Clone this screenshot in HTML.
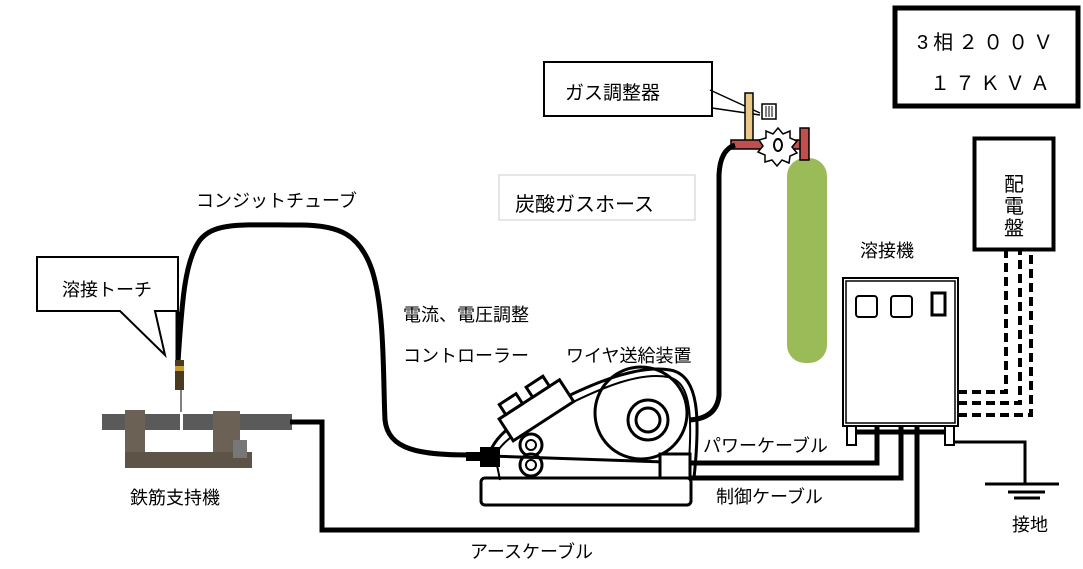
<!DOCTYPE html>
<html><head><meta charset="utf-8"><style>
body{margin:0;background:#fff;}
svg{display:block}
text{font-family:"Liberation Sans","Noto Sans CJK JP",sans-serif;fill:#000;}
</style></head><body>
<svg width="1083" height="569" viewBox="0 0 1083 569" xmlns="http://www.w3.org/2000/svg">
<rect x="895" y="8" width="183" height="98" fill="#fff" stroke="#000" stroke-width="5"/>
<text x="917" y="49" font-size="20" letter-spacing="5">3相２００Ｖ</text>
<text x="930" y="90" font-size="20" letter-spacing="5">１７ＫＶＡ</text>
<rect x="974.5" y="138.5" width="79" height="111" fill="#fff" stroke="#000" stroke-width="4"/>
<text x="1004" y="191" font-size="20">配</text>
<text x="1004" y="213" font-size="20">電</text>
<text x="1004" y="235" font-size="20">盤</text>
<g fill="none" stroke="#000" stroke-width="4" stroke-dasharray="9,5">
<path d="M958 392 H1006 V250"/>
<path d="M958 403 H1020 V250"/>
<path d="M958 415 H1031 V250"/>
</g>
<rect x="544" y="62" width="168" height="54" fill="#fff" stroke="#000" stroke-width="2"/>
<text x="565" y="99" font-size="19">ガス調整器</text>
<path d="M710 90 L760 113 M712 108 L760 115" stroke="#000" stroke-width="1.5"/>
<rect x="745" y="93" width="8" height="50" fill="#e8c98a" stroke="#000" stroke-width="1.5"/>
<rect x="762" y="104" width="14" height="15" fill="#fff" stroke="#000" stroke-width="1.5"/>
<path d="M766 106v11M769 106v11M772 106v11" stroke="#000"/>
<rect x="787" y="158" width="40" height="205" rx="18" fill="#9bbb59"/>
<rect x="731" y="140" width="77" height="9" fill="#c0504d" stroke="#000" stroke-width="1.5"/>
<rect x="800" y="128" width="9" height="32" fill="#c0504d" stroke="#000" stroke-width="1.5"/>
<polygon points="778,128 783,134 790,131 790,138 797,141 792,147 797,153 790,156 789,163 782,160 777,166 772,160 765,162 765,155 758,152 763,146 759,140 766,138 766,131 773,134" fill="#fff" stroke="#000" stroke-width="1.5"/>
<ellipse cx="778" cy="145" rx="4" ry="6" fill="#fff" stroke="#000" stroke-width="2"/>
<path d="M735 145 Q720 150 719 175 L719 395 Q717 418 690 420" fill="none" stroke="#000" stroke-width="5"/>
<rect x="499" y="175" width="196" height="45" fill="#fff" stroke="#ccc" stroke-width="1"/>
<text x="515" y="211" font-size="20">炭酸ガスホース</text>
<text x="196" y="207" font-size="18">コンジットチューブ</text>
<text x="403" y="321" font-size="18">電流、電圧調整</text>
<text x="403" y="362" font-size="18">コントローラー</text>
<text x="566" y="362" font-size="18">ワイヤ送給装置</text>
<text x="860" y="257" font-size="18">溶接機</text>
<text x="703" y="452" font-size="18">パワーケーブル</text>
<text x="716" y="503" font-size="18">制御ケーブル</text>
<text x="470" y="558" font-size="18">アースケーブル</text>
<text x="130" y="504" font-size="18">鉄筋支持機</text>
<text x="1012" y="531" font-size="18">接地</text>
<path d="M178 362 C182 300 185 260 200 240 C215 222 240 225 300 225 C340 225 360 235 372 270 C385 310 383 380 385 420 C388 450 420 455 470 455" fill="none" stroke="#000" stroke-width="5"/>
<path d="M37 257 H178 V311 H155 L165 355 L120 311 H37 Z" fill="#fff" stroke="#000" stroke-width="2"/>
<text x="62" y="296" font-size="18">溶接トーチ</text>
<path d="M178 312 L178 360" stroke="#000" stroke-width="5"/>
<rect x="175" y="360" width="9" height="30" fill="#4a3a20"/>
<rect x="175" y="366" width="9" height="5" fill="#c99a2e"/>
<line x1="181" y1="390" x2="181" y2="413" stroke="#555" stroke-width="1.5"/>
<rect x="102" y="414" width="190" height="16" fill="#5a5a5a"/>
<rect x="125" y="410" width="20" height="50" fill="#6b6155"/>
<rect x="213" y="411" width="27" height="55" fill="#6b6155"/>
<rect x="125" y="452" width="127" height="16" fill="#5d5347"/>
<rect x="233" y="440" width="14" height="18" fill="#777"/>
<rect x="180" y="412" width="3" height="20" fill="#fff"/>
<path d="M290 422 H322 V530 H917 V408" fill="none" stroke="#000" stroke-width="5"/>
<rect x="481" y="478" width="210" height="27" rx="4" fill="#fff" stroke="#000" stroke-width="3"/>
<circle cx="641" cy="413" r="46" fill="#fff" stroke="#000" stroke-width="3"/>
<circle cx="648" cy="420" r="20" fill="#fff" stroke="#000" stroke-width="3"/>
<circle cx="648" cy="420" r="12" fill="#fff" stroke="#000" stroke-width="3"/>
<path d="M487 460 C495 430 520 420 560 400 C600 380 640 365 670 370 C700 375 700 420 694 478" fill="none" stroke="#000" stroke-width="3"/>
<path d="M492 462 C500 438 525 428 565 406 C605 386 640 372 668 377 C693 382 692 420 688 478" fill="none" stroke="#000" stroke-width="2"/>
<g transform="rotate(-33 535 410)">
<rect x="500" y="398" width="72" height="26" fill="#fff" stroke="#000" stroke-width="3"/>
<rect x="508" y="386" width="20" height="12" fill="#fff" stroke="#000" stroke-width="3"/>
<rect x="540" y="386" width="20" height="12" fill="#fff" stroke="#000" stroke-width="3"/>
</g>
<circle cx="531" cy="445" r="11" fill="#fff" stroke="#000" stroke-width="3"/>
<circle cx="531" cy="445" r="5" fill="#fff" stroke="#000" stroke-width="2"/>
<circle cx="531" cy="465" r="11" fill="#fff" stroke="#000" stroke-width="3"/>
<circle cx="531" cy="465" r="5" fill="#fff" stroke="#000" stroke-width="2"/>
<line x1="490" y1="456" x2="665" y2="462" stroke="#000" stroke-width="3"/>
<rect x="480" y="447" width="20" height="20" fill="#000"/>
<rect x="466" y="452" width="16" height="9" fill="#000"/>
<line x1="497" y1="465" x2="500" y2="480" stroke="#000" stroke-width="2"/>
<rect x="660" y="454" width="30" height="24" fill="#fff" stroke="#000" stroke-width="3"/>
<path d="M691 463 H877 V408" fill="none" stroke="#000" stroke-width="5"/>
<path d="M691 478 H901 V412" fill="none" stroke="#000" stroke-width="5"/>
<rect x="843" y="278" width="115" height="148" fill="#fff" stroke="#000" stroke-width="2"/>
<rect x="846" y="281" width="109" height="142" fill="none" stroke="#000" stroke-width="1.5"/>
<rect x="856" y="296" width="21" height="21" rx="3" fill="#fff" stroke="#000" stroke-width="2"/>
<rect x="891" y="296" width="21" height="21" rx="3" fill="#fff" stroke="#000" stroke-width="2"/>
<rect x="932" y="293" width="13" height="22" fill="#fff" stroke="#000" stroke-width="3"/>
<rect x="847" y="426" width="9" height="19" fill="#fff" stroke="#000" stroke-width="2"/>
<rect x="945" y="426" width="9" height="19" fill="#fff" stroke="#000" stroke-width="2"/>
<line x1="856" y1="432" x2="945" y2="432" stroke="#000" stroke-width="5"/>
<path d="M955 442 H1025 V484" fill="none" stroke="#000" stroke-width="3"/>
<line x1="985" y1="484" x2="1059" y2="484" stroke="#000" stroke-width="3"/>
<line x1="1008" y1="492" x2="1045" y2="492" stroke="#000" stroke-width="3"/>
<line x1="1014" y1="498" x2="1040" y2="498" stroke="#000" stroke-width="3"/>
</svg>
</body></html>
